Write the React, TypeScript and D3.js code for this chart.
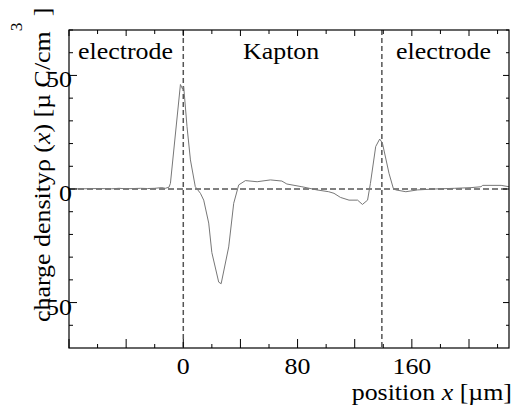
import React from "react";
import * as d3 from "d3";

// Charge density profile (x in µm, rho in µC/cm^3)
const positions = [-80, -70, -60, -50, -45, -40, -35, -30, -25, -20, -17, -15, -12.6, -10, -9, -2, -0.5, 0.3, 2.6, 5, 8.4, 12, 14.3, 17.8, 20, 24.8, 26.5, 31.8, 35.3, 38.8, 43.5, 51.7, 61, 69, 72.5, 83, 93.5, 101.8, 105.5, 110, 116, 122, 125.4, 129, 131, 134.7, 137.5, 139.4, 144, 147, 148.8, 155.8, 164, 175.7, 189.7, 201.4, 208.4, 209.6, 222.5, 228];
const density = [0, 0.1, 0.2, 0.1, 0.3, 0.1, 0.2, 0.3, 0.2, 0.3, 0.5, 0.6, 0.3, 0.8, 2.5, 46, 44, 45, 27.5, 12.8, 1, -1.9, -4.9, -15, -28, -41, -41.7, -25.5, -6.3, 1.8, 3.7, 3.2, 4, 3.5, 2.2, 1, -0.4, -1.2, -1.9, -3.7, -4.9, -4.9, -6.8, -4.9, 2.5, 18.7, 22, 20.2, 6.9, 0.3, -0.4, -1.2, -0.4, 0, 0.3, 0.6, 1, 1.6, 1.6, 1];

const xTickLabels = [0, 80, 160];
const yTickLabels = ["50", "0", "50"];
const yTickValues = [50, 0, -50];
const boundaries = [0, 139];
const regionLabels = ["electrode", "Kapton", "electrode"];

const FONT = "'Liberation Serif', 'Times New Roman', serif";
const SX = 1.08;

export default function App() {
  const W = 518, H = 407;
  const x = d3.scaleLinear().domain([-80, 228]).range([69, 509]);
  const y = d3.scaleLinear().domain([-70, 70]).range([348, 30]);
  const [x0, x1] = x.range();
  const [y0, y1] = [y(70), y(-70)];

  const line = d3
    .line<number>()
    .x((_, i) => x(positions[i]))
    .y((d) => y(d));

  const xTicks = d3.range(-80, 229, 20);
  const yTicks = d3.range(-60, 71, 10);

  const T = (props: { x: number; y: number; anchor?: string; children: React.ReactNode; size?: number }) => (
    <g transform={`translate(${props.x},${props.y}) scale(${SX},1)`}>
      <text textAnchor={props.anchor || "start"} fontFamily={FONT} fontSize={props.size || 24} fill="#000">
        {props.children}
      </text>
    </g>
  );

  const regionX = [78, 243, 396];

  return (
    <svg width={W} height={H} style={{ position: "absolute", left: 0, top: 0, background: "#fff" }}>
      <rect x={0} y={0} width={W} height={H} fill="#fff" />
      {/* zero line */}
      <line x1={x0} x2={x1} y1={y(0)} y2={y(0)} stroke="#000" strokeWidth={1} strokeDasharray="6,3" />
      {/* boundaries */}
      {boundaries.map((b, i) => (
        <line key={i} x1={x(b)} x2={x(b)} y1={y0} y2={y1} stroke="#555" strokeWidth={1.5} strokeDasharray="5,3" />
      ))}
      {/* curve */}
      <path d={line(density) || ""} fill="none" stroke="#777" strokeWidth={1} />
      {/* frame */}
      <rect x={x0} y={y0} width={x1 - x0} height={y1 - y0} fill="none" stroke="#000" strokeWidth={1.2} />
      {/* x ticks */}
      {xTicks.map((t) => {
        const major = t % 40 === 0;
        const px = x(t);
        return (
          <g key={"xt" + t}>
            <line x1={px} x2={px} y1={y1} y2={y1 - (major ? 9 : 4)} stroke="#000" strokeWidth={1} />
            <line x1={px} x2={px} y1={y0} y2={y0 + (major ? 6 : 4)} stroke="#000" strokeWidth={1} />
          </g>
        );
      })}
      {/* y ticks */}
      {yTicks.map((t) => {
        const major = t % 50 === 0;
        const py = y(t);
        return (
          <g key={"yt" + t}>
            <line x1={x0} x2={x0 + (major ? 8 : 4)} y1={py} y2={py} stroke="#000" strokeWidth={1} />
            <line x1={x1} x2={x1 - (major ? 6 : 3)} y1={py} y2={py} stroke="#000" strokeWidth={1} />
          </g>
        );
      })}
      {xTickLabels.map((t) => (
        <T key={"xl" + t} x={x(t)} y={374} anchor="middle">
          {String(t)}
        </T>
      ))}
      {yTickValues.map((v, i) => (
        <T key={"yl" + i} x={72} y={y(v) + 12} anchor="end">
          {yTickLabels[i]}
        </T>
      ))}
      {regionLabels.map((l, i) => (
        <T key={"rl" + i} x={regionX[i]} y={59}>
          {l}
        </T>
      ))}
      <T x={512} y={400} anchor="end">
        position <tspan fontStyle="italic">x</tspan> [µm]
      </T>
      <g transform={`translate(50,322) rotate(-90) scale(${SX},1)`}>
        <text fontFamily={FONT} fontSize={24} fill="#000">
          charge density<tspan>ρ</tspan> (<tspan fontStyle="italic">x</tspan>) [µ C/cm
          <tspan dy={-28} fontSize={16}>3</tspan>
          <tspan dy={28}>  ]</tspan>
        </text>
      </g>
    </svg>
  );
}
